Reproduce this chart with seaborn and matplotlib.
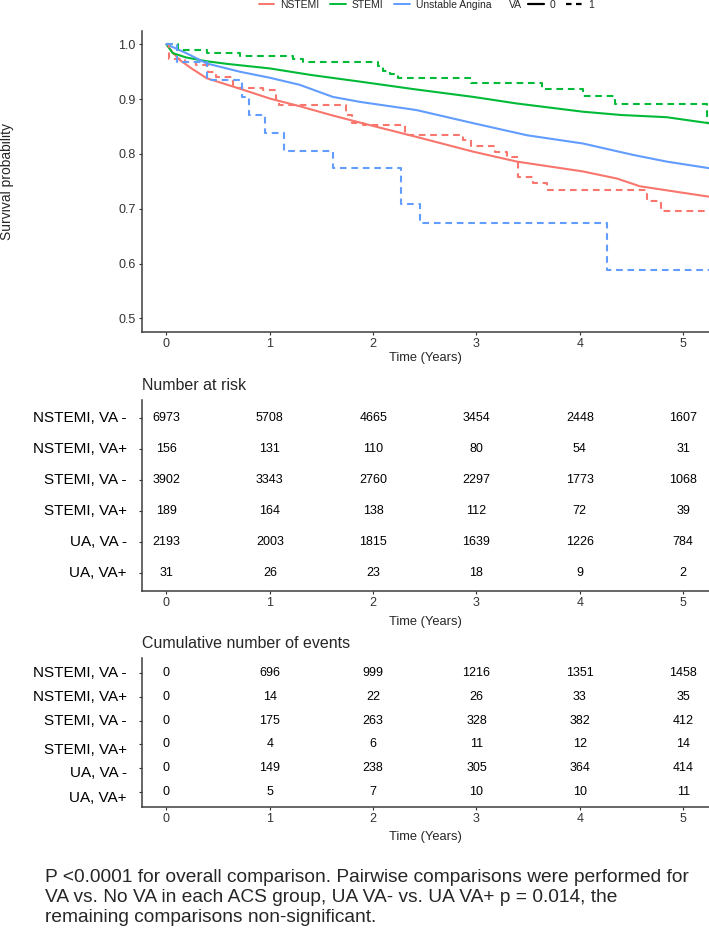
import numpy as np
import pandas as pd
import matplotlib.pyplot as plt
import seaborn as sns
from matplotlib.lines import Line2D

sns.set_style("ticks")
plt.rcParams['font.family'] = ['Liberation Sans', 'DejaVu Sans']

# ---- survival curves ----
nstemi_va0_t = [0, 0.06, 0.13, 0.25, 0.39, 0.71, 1.0, 1.29, 1.61, 2.0, 2.42, 2.97, 3.39, 4.03, 4.36, 4.58, 5.0, 5.25]
nstemi_va0_s = [1.0, 0.985, 0.971, 0.955, 0.938, 0.919, 0.901, 0.887, 0.870, 0.851, 0.831, 0.804, 0.786, 0.768, 0.755, 0.741, 0.729, 0.722]

stemi_va0_t = [0, 0.06, 0.19, 0.39, 0.6, 1.0, 1.4, 1.87, 2.4, 2.97, 3.39, 4.03, 4.4, 4.84, 5.25]
stemi_va0_s = [1.0, 0.984, 0.976, 0.969, 0.964, 0.956, 0.944, 0.932, 0.918, 0.904, 0.892, 0.877, 0.871, 0.867, 0.856]

ua_va0_t = [0, 0.19, 0.39, 0.71, 1.0, 1.29, 1.45, 1.61, 1.87, 2.42, 2.97, 3.49, 4.03, 4.52, 4.84, 5.25]
ua_va0_s = [1.0, 0.984, 0.965, 0.950, 0.939, 0.926, 0.915, 0.904, 0.895, 0.880, 0.856, 0.834, 0.819, 0.798, 0.786, 0.774]

nstemi_va1_t = [0, 0.02, 0.18, 0.29, 0.40, 0.48, 0.64, 0.93, 1.06, 1.09, 1.74, 1.80, 1.90, 2.31, 2.87, 2.95,
                3.18, 3.30, 3.40, 3.55, 3.68, 4.65, 4.79, 5.25]
nstemi_va1_s = [1.0, 0.974, 0.968, 0.962, 0.950, 0.940, 0.921, 0.917, 0.898, 0.889, 0.871, 0.857, 0.853, 0.834, 0.825, 0.815,
                0.804, 0.795, 0.758, 0.747, 0.734, 0.714, 0.695, 0.695]

stemi_va1_t = [0, 0.11, 0.39, 0.71, 1.22, 1.32, 2.05, 2.10, 2.16, 2.24, 2.95, 3.63, 4.03, 4.34, 5.23, 5.25]
stemi_va1_s = [1.0, 0.989, 0.984, 0.979, 0.974, 0.968, 0.960, 0.952, 0.945, 0.938, 0.930, 0.919, 0.906, 0.891, 0.857, 0.857]

ua_va1_t = [0, 0.10, 0.39, 0.73, 0.80, 0.95, 1.14, 1.61, 2.27, 2.45, 4.26, 5.25]
ua_va1_s = [1.0, 0.968, 0.935, 0.903, 0.871, 0.839, 0.806, 0.774, 0.709, 0.674, 0.589, 0.589]

groups = ['NSTEMI', 'STEMI', 'Unstable Angina']
colors = ['#F8766D', '#00BA38', '#619CFF']

# ---- risk tables ----
row_labels = ['NSTEMI, VA -', 'NSTEMI, VA+', 'STEMI, VA -', 'STEMI, VA+', 'UA, VA -', 'UA, VA+']
table_times = [0, 1, 2, 3, 4, 5]
at_risk = [
    [6973, 5708, 4665, 3454, 2448, 1607],
    [156, 131, 110, 80, 54, 31],
    [3902, 3343, 2760, 2297, 1773, 1068],
    [189, 164, 138, 112, 72, 39],
    [2193, 2003, 1815, 1639, 1226, 784],
    [31, 26, 23, 18, 9, 2],
]
cum_events = [
    [0, 696, 999, 1216, 1351, 1458],
    [0, 14, 22, 26, 33, 35],
    [0, 175, 263, 328, 382, 412],
    [0, 4, 6, 11, 12, 14],
    [0, 149, 238, 305, 364, 414],
    [0, 5, 7, 10, 10, 11],
]

footnote = ["P <0.0001 for overall comparison. Pairwise comparisons were performed for",
            "VA vs. No VA in each ACS group, UA VA- vs. UA VA+ p = 0.014, the",
            "remaining comparisons non-significant."]


def long_df(curves):
    parts = []
    for g, (t, s) in zip(groups, curves):
        parts.append(pd.DataFrame({'time': t, 'surv': s, 'group': g}))
    return pd.concat(parts, ignore_index=True)


df0 = long_df([(nstemi_va0_t, nstemi_va0_s), (stemi_va0_t, stemi_va0_s), (ua_va0_t, ua_va0_s)])
df1 = long_df([(nstemi_va1_t, nstemi_va1_s), (stemi_va1_t, stemi_va1_s), (ua_va1_t, ua_va1_s)])

W, H = 709, 930
fig = plt.figure(figsize=(W / 100, H / 100), dpi=100)


def fx(px):
    return px / W


def fy(py):
    return 1 - py / H


spine_col = '#3d3d3d'
tick_col = '#333333'
left_px = 141.7


def style_axes(ax):
    sns.despine(ax=ax)
    for s in ['left', 'bottom']:
        ax.spines[s].set_color(spine_col)
        ax.spines[s].set_linewidth(1.1)
    ax.tick_params(colors=tick_col, labelcolor=tick_col, length=2.5, width=0.8, labelsize=9, pad=1.5)


# ---- survival plot ----
ax = fig.add_axes([fx(left_px), fy(332), fx(709) - fx(left_px), (332 - 31) / H])
sns.lineplot(data=df0, x='time', y='surv', hue='group', hue_order=groups, palette=colors,
             estimator=None, sort=False, lw=1.5, legend=False, ax=ax)
sns.lineplot(data=df1, x='time', y='surv', hue='group', hue_order=groups, palette=colors,
             estimator=None, sort=False, lw=1.5, legend=False, ax=ax,
             drawstyle='steps-post', linestyle=(0, (3.2, 2.3)))
ax.set_xlim(-0.24, 5.25)
ax.set_ylim(0.475, 1.0243)
ax.set_xticks(table_times)
ax.set_yticks([0.5, 0.6, 0.7, 0.8, 0.9, 1.0])
ax.set_yticklabels(['0.5', '0.6', '0.7', '0.8', '0.9', '1.0'])
ax.set_xlabel('')
ax.set_ylabel('')
style_axes(ax)
ax.tick_params(axis='y', pad=2)
ax.text(0.5, -(358 - 332) / 301, 'Time (Years)', transform=ax.transAxes, ha='center', va='center', fontsize=9.3)
fig.text(fx(7.5), fy(181.5), 'Survival probability', rotation=90, ha='center', va='center', fontsize=10)

# legends
h1 = [Line2D([], [], color=c, lw=1.4) for c in colors]
fig.legend(h1, groups, loc='center', bbox_to_anchor=(fx(375), fy(5)), ncol=3, frameon=False,
           fontsize=7.5, handlelength=1.5, handletextpad=0.6, columnspacing=1.0, borderpad=0, borderaxespad=0)
fig.text(fx(509), fy(5), 'VA', fontsize=7.5, va='center', ha='left')
h2 = [Line2D([], [], color='black', lw=1.6), Line2D([], [], color='black', lw=1.6, linestyle=(0, (2.5, 2)))]
fig.legend(h2, ['0', '1'], loc='center', bbox_to_anchor=(fx(561), fy(5)), ncol=2, frameon=False,
           fontsize=7.5, handlelength=1.5, handletextpad=0.6, columnspacing=1.0, borderpad=0, borderaxespad=0)


# ---- tables ----
def draw_table(top_px, bottom_px, pad_rows, values, title, title_px, xlabel_px, label_shift_px):
    tax = fig.add_axes([fx(left_px), fy(bottom_px), fx(709) - fx(left_px), (bottom_px - top_px) / H])
    tax.set_xlim(-0.24, 5.25)
    tax.set_ylim(5 + pad_rows, -pad_rows)
    for r, row in enumerate(values):
        for t, v in zip(table_times, row):
            tax.text(t, r, str(v), ha='center', va='center', fontsize=9, color='black')
    tax.set_xticks(table_times)
    tax.set_yticks(range(len(row_labels)))
    tax.set_yticklabels([''] * len(row_labels))
    style_axes(tax)
    for r, lab in enumerate(row_labels):
        tax.annotate(lab, xy=(0, r), xycoords=('axes fraction', 'data'),
                     xytext=(-14.7 * 0.72, -label_shift_px[r] * 0.72), textcoords='offset points',
                     ha='right', va='center', fontsize=11, color='black')
    tax.text(0.5, -(xlabel_px - bottom_px) / (bottom_px - top_px), 'Time (Years)', transform=tax.transAxes,
             ha='center', va='center', fontsize=9.3)
    fig.text(fx(left_px), fy(title_px), title, ha='left', va='center', fontsize=11.5)
    return tax


draw_table(400, 591, 0.58, at_risk, 'Number at risk', 385, 622, [0, 0, 0, 0, 0, 0])
draw_table(658, 807, 0.63, cum_events, 'Cumulative number of events', 643, 837, [0, 0, 0, 6, 5, 6])

# ---- footnote ----
for line, base in zip(footnote, [882, 902, 922]):
    fig.text(fx(45), fy(base), line, ha='left', va='baseline', fontsize=13.75)

fig.savefig('out.png', dpi=100)
